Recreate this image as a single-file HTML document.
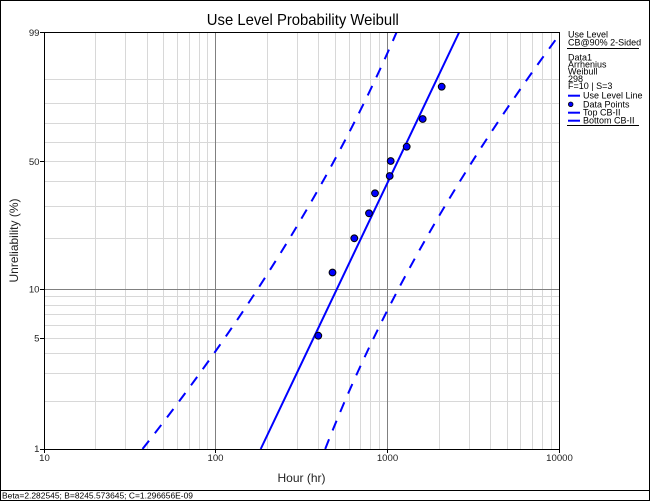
<!DOCTYPE html>
<html><head><meta charset="utf-8"><style>
html,body{margin:0;padding:0;background:#fff;}
svg{display:block;}
text{font-family:"Liberation Sans",Tahoma,sans-serif;}
</style></head><body>
<svg width="650" height="501" viewBox="0 0 650 501" xmlns="http://www.w3.org/2000/svg">
<defs><clipPath id="pc"><rect x="44" y="32" width="515.5" height="417.5"/></clipPath></defs>
<rect x="0" y="0" width="650" height="501" fill="#fff"/>
<rect x="0.5" y="0.5" width="649" height="500" fill="none" stroke="#000" stroke-width="1"/>
<line x1="0" y1="490.5" x2="650" y2="490.5" stroke="#000" stroke-width="1"/>
<text x="2" y="498.5" font-size="8.5" fill="#000" textLength="191" lengthAdjust="spacingAndGlyphs">Beta=2.282545; B=8245.573645; C=1.296656E-09</text>

<text x="302.8" y="25" font-size="16" fill="#000" text-anchor="middle" textLength="192" lengthAdjust="spacingAndGlyphs">Use Level Probability Weibull</text>

<!-- light grid -->
<g stroke="#d8d8d8" stroke-width="1">
<line x1="95.5" y1="32" x2="95.5" y2="449"/><line x1="125.5" y1="32" x2="125.5" y2="449"/>
<line x1="147.5" y1="32" x2="147.5" y2="449"/><line x1="163.5" y1="32" x2="163.5" y2="449"/>
<line x1="177.5" y1="32" x2="177.5" y2="449"/><line x1="189.5" y1="32" x2="189.5" y2="449"/>
<line x1="199.5" y1="32" x2="199.5" y2="449"/><line x1="207.5" y1="32" x2="207.5" y2="449"/>
<line x1="267.5" y1="32" x2="267.5" y2="449"/><line x1="297.5" y1="32" x2="297.5" y2="449"/>
<line x1="318.5" y1="32" x2="318.5" y2="449"/><line x1="335.5" y1="32" x2="335.5" y2="449"/>
<line x1="349.5" y1="32" x2="349.5" y2="449"/><line x1="360.5" y1="32" x2="360.5" y2="449"/>
<line x1="370.5" y1="32" x2="370.5" y2="449"/><line x1="379.5" y1="32" x2="379.5" y2="449"/>
<line x1="439.5" y1="32" x2="439.5" y2="449"/><line x1="469.5" y1="32" x2="469.5" y2="449"/>
<line x1="490.5" y1="32" x2="490.5" y2="449"/><line x1="507.5" y1="32" x2="507.5" y2="449"/>
<line x1="520.5" y1="32" x2="520.5" y2="449"/><line x1="532.5" y1="32" x2="532.5" y2="449"/>
<line x1="542.5" y1="32" x2="542.5" y2="449"/><line x1="551.5" y1="32" x2="551.5" y2="449"/>
<line x1="44" y1="401.5" x2="559" y2="401.5"/><line x1="44" y1="373.5" x2="559" y2="373.5"/>
<line x1="44" y1="353.5" x2="559" y2="353.5"/><line x1="44" y1="338.5" x2="559" y2="338.5"/>
<line x1="44" y1="325.5" x2="559" y2="325.5"/><line x1="44" y1="314.5" x2="559" y2="314.5"/>
<line x1="44" y1="305.5" x2="559" y2="305.5"/><line x1="44" y1="296.5" x2="559" y2="296.5"/>
<line x1="44" y1="238.5" x2="559" y2="238.5"/><line x1="44" y1="206.5" x2="559" y2="206.5"/>
<line x1="44" y1="181.5" x2="559" y2="181.5"/><line x1="44" y1="161.5" x2="559" y2="161.5"/>
<line x1="44" y1="142.5" x2="559" y2="142.5"/><line x1="44" y1="123.5" x2="559" y2="123.5"/>
<line x1="44" y1="103.5" x2="559" y2="103.5"/><line x1="44" y1="79.5" x2="559" y2="79.5"/>
</g>
<!-- dark grid -->
<g stroke="#808080" stroke-width="1">
<line x1="215.5" y1="32" x2="215.5" y2="449"/>
<line x1="387.5" y1="32" x2="387.5" y2="449"/>
<line x1="44" y1="289.5" x2="559" y2="289.5"/>
</g>

<!-- series -->
<g clip-path="url(#pc)" fill="none" stroke="#0000ff" stroke-width="2">
<path d="M142.5,449 Q307,240.5 396.7,32" stroke-dasharray="10.5 9.5"/>
<path d="M325.2,449 Q406.5,240.5 561.4,32" stroke-dasharray="10.5 9.5"/>
<path d="M260.7,449 L459.3,32"/>
</g>
<g fill="#0000ff" stroke="#000" stroke-width="1">
<circle cx="318.3" cy="335.7" r="3.4"/>
<circle cx="332.5" cy="272.5" r="3.4"/>
<circle cx="354.3" cy="238.3" r="3.4"/>
<circle cx="369" cy="213.3" r="3.4"/>
<circle cx="375" cy="193.3" r="3.4"/>
<circle cx="389.7" cy="176" r="3.4"/>
<circle cx="390.7" cy="161" r="3.4"/>
<circle cx="406.7" cy="146.7" r="3.4"/>
<circle cx="422.7" cy="119" r="3.4"/>
<circle cx="441.7" cy="86.7" r="3.4"/>
</g>

<!-- axes box -->
<rect x="44.5" y="32.5" width="515" height="417" fill="none" stroke="#000" stroke-width="1"/>
<g stroke="#000" stroke-width="1">
<line x1="40" y1="32.5" x2="44" y2="32.5"/>
<line x1="40" y1="161.5" x2="44" y2="161.5"/>
<line x1="40" y1="289.5" x2="44" y2="289.5"/>
<line x1="40" y1="338.5" x2="44" y2="338.5"/>
<line x1="40" y1="449.5" x2="44" y2="449.5"/>
<line x1="44.5" y1="449" x2="44.5" y2="453"/>
<line x1="215.5" y1="449" x2="215.5" y2="453"/>
<line x1="387.5" y1="449" x2="387.5" y2="453"/>
<line x1="559.5" y1="449" x2="559.5" y2="453"/>
</g>
<g font-size="9.6" fill="#222" text-anchor="end">
<text x="39.5" y="35.8">99</text>
<text x="39.5" y="165">50</text>
<text x="39.5" y="292.5">10</text>
<text x="39.5" y="341.5">5</text>
<text x="39.5" y="452">1</text>
</g>
<g font-size="9.6" fill="#222" text-anchor="middle">
<text x="44.5" y="461">10</text>
<text x="215.5" y="461">100</text>
<text x="387.5" y="461">1000</text>
<text x="559.5" y="461">10000</text>
</g>
<text x="301.5" y="482" font-size="12" fill="#222" text-anchor="middle">Hour (hr)</text>
<text transform="translate(18,240.5) rotate(-90)" font-size="12" fill="#222" text-anchor="middle">Unreliability (%)</text>

<!-- legend -->
<g font-size="9" fill="#000">
<text x="568" y="37.3">Use Level</text>
<text x="568" y="45.3">CB@90% 2-Sided</text>
<text x="568" y="60.3">Data1</text>
<text x="568" y="67.7">Arrhenius</text>
<text x="568" y="74.7">Weibull</text>
<text x="568" y="82">298</text>
<text x="568" y="89">F=10 | S=3</text>
<text x="583" y="98.7">Use Level Line</text>
<text x="583" y="107.3">Data Points</text>
<text x="583" y="115.7">Top CB-II</text>
<text x="583" y="123.3">Bottom CB-II</text>
</g>
<line x1="567" y1="48.5" x2="639" y2="48.5" stroke="#000" stroke-width="1"/>
<line x1="567" y1="125.5" x2="639" y2="125.5" stroke="#000" stroke-width="1"/>
<g stroke="#0000ff" stroke-width="2">
<line x1="568" y1="95.7" x2="580" y2="95.7"/>
<line x1="568" y1="112.7" x2="580" y2="112.7"/>
<line x1="568" y1="120.7" x2="580" y2="120.7"/>
</g>
<circle cx="570.7" cy="104.3" r="2.3" fill="#0000ff" stroke="#000" stroke-width="0.8"/>
</svg>
</body></html>
